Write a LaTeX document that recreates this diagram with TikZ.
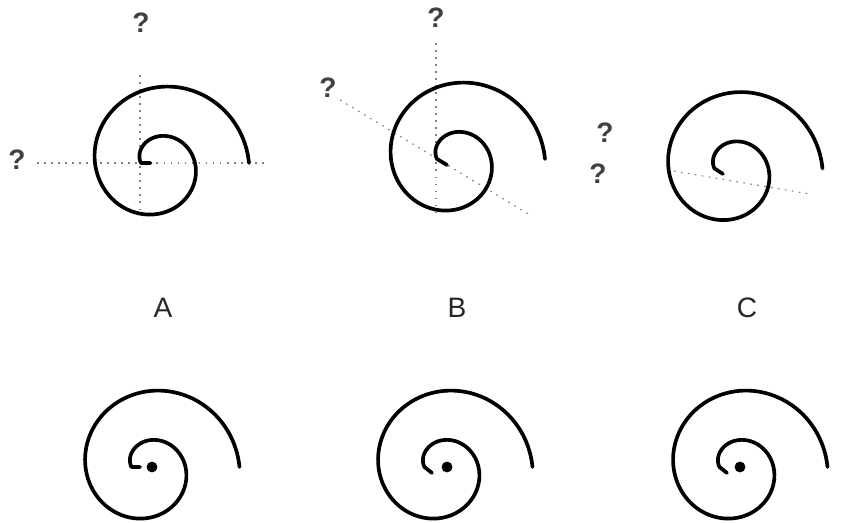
\documentclass[tikz,border=0pt]{standalone}
\usepackage{fontspec}
\setmainfont{Liberation Sans}
\usepackage{tikz}
\usetikzlibrary{positioning}

\begin{document}
\begin{tikzpicture}[x=0.02cm, y=-0.02cm,
  spiral/.style={line width=2.1pt, line cap=round, line join=round},
  axis/.style={gray, line width=0.6pt, dash pattern=on 1pt off 3pt},
  qmark/.style={font=\fontsize{16}{18}\selectfont\bfseries, text=black!75, inner sep=0pt},
  letter/.style={font=\fontsize{16}{18}\selectfont, text=black!85, inner sep=0pt}]
  \useasboundingbox (0,0) rectangle (852,523);
  % Question marks
  \node[qmark] (qa1) at (141,23) {?};
  \node[qmark] (qa2) at (17,160) {?};
  \node[qmark] (qb1) at (436,18) {?};
  \node[qmark] (qb2) at (328,88) {?};
  \node[qmark] (qc1) at (605,133) {?};
  \node[qmark] (qc2) at (598,174) {?};
  % Axes
  \coordinate (ah1) at (37,163);  \coordinate (ah2) at (268,163);
  \coordinate (av1) at (140,75);  \coordinate (av2) at (140,211);
  \coordinate (bv1) at (436,43);  \coordinate (bv2) at (436,217);
  \coordinate (bd1) at (340,100); \coordinate (bd2) at (530,215);
  \coordinate (cd1) at (667,170); \coordinate (cd2) at (810,194);
  \draw[axis] (ah1) -- (ah2);
  \draw[axis] (av1) -- (av2);
  \draw[axis] (bv1) -- (bv2);
  \draw[axis] (bd1) -- (bd2);
  \draw[axis] (cd1) -- (cd2);
  % Spirals
  \foreach \cx/\cy/\tx/\ty/\n in {154.5/163/-4/0/sa, 450.5/159/-3.5/6/sb, 728/168.5/-5/5.5/sc,
                                  145/467/-5/0/ta, 438/467/-6/6/tb, 733/467/-6/6/tc} {
    \coordinate (\n) at (\cx,\cy);
    \draw[spiral] ([shift={(\tx,\ty)}]\n) -- plot[domain=0:540, samples=120, smooth]
      ({\cx+0.0111*\x+(13.5+0.1389*\x)*cos(180-\x)}, {\cy-(13.5+0.1389*\x)*sin(180-\x)});
  }
  % Centre dots
  \foreach \px in {152, 447, 740} {
    \fill (\px,467) circle (3.1pt);
  }
  % Labels
  \node[letter] (labA) at (163,308) {A};
  \node[letter] (labB) at (457,308) {B};
  \node[letter] (labC) at (747,308) {C};
\end{tikzpicture}
\end{document}
